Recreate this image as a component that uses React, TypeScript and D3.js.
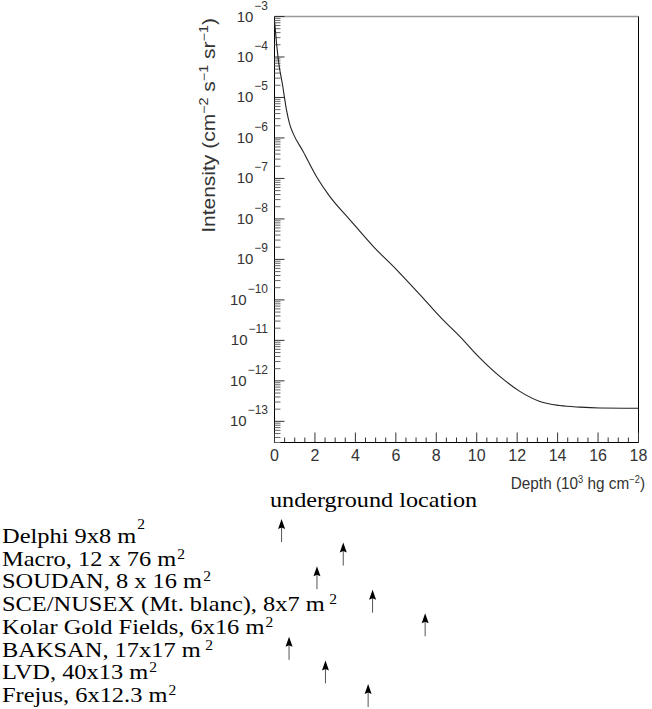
import { line, scaleLinear, scaleLog, scalePoint, curveMonotoneX, range } from "d3";

// depth in 10^3 hg cm^-2, intensity in cm^-2 s^-1 sr^-1
const depth = [0, 0.1, 0.21, 0.4, 0.59, 0.76, 0.92, 1.41, 2.08, 2.73, 3.73, 4.88, 6.03, 7.19, 8.26, 9.16, 10.15, 11.14, 12.13, 13.12, 14.11, 15.1, 16.09, 18];
const intensity = [7.9e-4, 2.2e-4, 7.1e-5, 2.0e-5, 5.0e-6, 2.1e-6, 1.3e-6, 4.7e-7, 1.1e-7, 3.6e-8, 9.5e-9, 2.1e-9, 5.6e-10, 1.35e-10, 3.5e-11, 1.26e-11, 3.7e-12, 1.29e-12, 5.5e-13, 3.1e-13, 2.45e-13, 2.24e-13, 2.14e-13, 2.1e-13];

const xTicks = [0, 2, 4, 6, 8, 10, 12, 14, 16, 18];
const yExponents = [-3, -4, -5, -6, -7, -8, -9, -10, -11, -12, -13];

const experiments = ["Delphi", "Macro", "SOUDAN", "SCE/NUSEX", "Kolar", "BAKSAN", "LVD", "Frejus"];
const expLabels = [
  "Delphi 9x8 m",
  "Macro, 12 x 76 m",
  "SOUDAN, 8 x 16 m",
  "SCE/NUSEX (Mt. blanc), 8x7 m",
  "Kolar Gold Fields, 6x16 m",
  "BAKSAN, 17x17 m",
  "LVD, 40x13 m",
  "Frejus, 6x12.3 m"
];
const expDepths = [0.35, 3.4, 2.1, 4.85, 7.45, 0.72, 2.52, 4.63];

const sans = "'Liberation Sans', Arial, sans-serif";
const serif = "'Liberation Serif', 'Times New Roman', serif";

export default function App() {
  const width = 652;
  const height = 709;
  const frame = { left: 274.5, right: 638.5, top: 16.5, bottom: 442.5 };

  const x = scaleLinear().domain([0, 18]).range([frame.left, frame.right]);
  const y = scaleLog().domain([3e-14, 1e-3]).range([frame.bottom, frame.top]);

  const minorX = range(0, 18.01, 0.5).filter((v) => v % 2 !== 0);
  const minorY: number[] = [];
  for (let e = -14; e <= -4; e++) {
    for (let k = 2; k <= 9; k++) {
      const v = k * Math.pow(10, e);
      if (v >= 3e-14 && v <= 1e-3) minorY.push(v);
    }
  }

  const curve = line<number>()
    .x((_, i) => x(depth[i]))
    .y((d) => y(d))
    .curve(curveMonotoneX);

  const labelRow = scalePoint<string>().domain(experiments).range([543, 702]);
  const arrowRow = scalePoint<string>().domain(experiments).range([542, 707]);

  return (
    <svg
      width={width}
      height={height}
      viewBox={`0 0 ${width} ${height}`}
      style={{ position: "absolute", left: 0, top: 0, background: "#fff" }}
    >
      {/* frame */}
      <line x1={frame.left} x2={frame.right} y1={frame.top} y2={frame.top} stroke="#999" strokeWidth={1.6} />
      <line x1={frame.left} x2={frame.left} y1={frame.top} y2={frame.bottom} stroke="#000" />
      <line x1={frame.right} x2={frame.right} y1={frame.top} y2={frame.bottom} stroke="#000" />
      <line x1={frame.left} x2={frame.right} y1={frame.bottom} y2={frame.bottom} stroke="#000" />

      {/* y ticks */}
      {yExponents.map((e) => {
        const ty = y(Math.pow(10, e));
        return (
          <g key={e}>
            <line x1={frame.left} x2={frame.left + 10} y1={ty} y2={ty} stroke="#333" />
            <text x={268} y={ty + 5} textAnchor="end" fontFamily={sans} fontSize={15} fill="#333">
              10
              <tspan dx={1} dy={-12} fontSize={12}>{`\u2212${-e}`}</tspan>
            </text>
          </g>
        );
      })}
      {minorY.map((v) => (
        <line key={v} x1={frame.left} x2={frame.left + 6} y1={y(v)} y2={y(v)} stroke="#666" />
      ))}

      {/* x ticks */}
      {xTicks.map((t) => (
        <g key={t}>
          <line x1={x(t)} x2={x(t)} y1={frame.bottom} y2={frame.bottom - 10} stroke="#333" />
          <text x={x(t)} y={461} textAnchor="middle" fontFamily={sans} fontSize={16} fill="#333">
            {t}
          </text>
        </g>
      ))}
      {minorX.map((t) => (
        <line key={t} x1={x(t)} x2={x(t)} y1={frame.bottom} y2={frame.bottom - 5} stroke="#333" />
      ))}

      {/* curve */}
      <path d={curve(intensity) ?? ""} fill="none" stroke="#222" strokeWidth={1.1} />

      {/* axis titles */}
      <text
        transform="translate(645, 489) scale(0.93, 1)"
        textAnchor="end"
        fontFamily={sans}
        fontSize={16.5}
        fill="#333"
      >
        Depth (10
        <tspan dy={-6} fontSize={10}>3</tspan>
        <tspan dy={6}> hg cm</tspan>
        <tspan dy={-6} fontSize={10}>{"\u22122"}</tspan>
        <tspan dy={6}>)</tspan>
      </text>
      <text
        transform="translate(215, 18) rotate(-90) scale(1.2, 1)"
        textAnchor="end"
        fontFamily={sans}
        fontSize={17.5}
        fill="#333"
      >
        Intensity (cm
        <tspan dy={-7} fontSize={12}>{"\u22122"}</tspan>
        <tspan dy={7}> s</tspan>
        <tspan dy={-7} fontSize={12}>{"\u22121"}</tspan>
        <tspan dy={7}> sr</tspan>
        <tspan dy={-7} fontSize={12}>{"\u22121"}</tspan>
        <tspan dy={7}>)</tspan>
      </text>

      {/* underground locations */}
      <text transform="translate(270, 507) scale(1.1, 1)" fontFamily={serif} fontSize={22} fill="#000">
        underground location
      </text>
      {experiments.map((name, i) => {
        const by = labelRow(name) ?? 0;
        const ay = arrowRow(name) ?? 0;
        const ax = x(expDepths[i]);
        const tip = ay - 23;
        return (
          <g key={name}>
            <text transform={`translate(2, ${by}) scale(1.11, 1)`} fontFamily={serif} fontSize={22} fill="#000">
              {expLabels[i]}
              <tspan dx={i === 3 || i === 5 ? 4 : 1} dy={i === 0 ? -14 : -7} fontSize={14}>
                2
              </tspan>
            </text>
            <line x1={ax} x2={ax} y1={ay} y2={tip + 8} stroke="#555" strokeWidth={1} />
            <path
              d={`M${ax},${tip} L${ax + 3.5},${tip + 10} L${ax},${tip + 8.5} L${ax - 3.5},${tip + 10} Z`}
              fill="#000"
            />
          </g>
        );
      })}
    </svg>
  );
}
